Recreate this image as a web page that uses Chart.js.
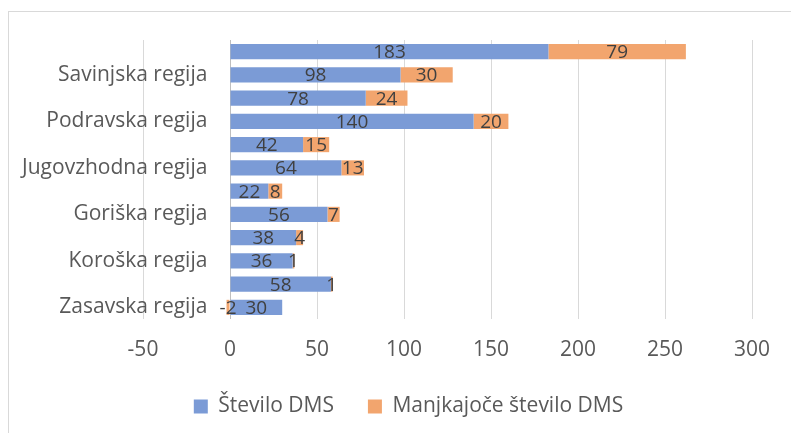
<!DOCTYPE html>
<html>
<head>
<meta charset="utf-8">
<script src="https://cdn.jsdelivr.net/npm/chart.js@4.4.1/dist/chart.umd.min.js"></script>
<style>
  html, body { margin: 0; padding: 0; background: #fff; overflow: hidden; }
  #wrap { position: relative; width: 791px; height: 433px; }
  #frame { position: absolute; left: 8px; top: 11px; width: 900px; height: 500px; border: 1px solid #d9d9d9; box-sizing: border-box; }
  canvas { position: absolute; left: 0; top: 0; }
</style>
</head>
<body>
<div id="wrap">
  <div id="frame"></div>
  <canvas id="chart" width="791" height="433"></canvas>
</div>
<script>
// regije (od zgoraj navzdol), v grafu je izpisana vsaka druga
const regije = [
  'Osrednjeslovenska regija',
  'Savinjska regija',
  'Gorenjska regija',
  'Podravska regija',
  'Pomurska regija',
  'Jugovzhodna regija',
  'Primorsko-notranjska regija',
  'Goriška regija',
  'Posavska regija',
  'Koroška regija',
  'Obalno-kraška regija',
  'Zasavska regija'
];
const steviloDMS = [183, 98, 78, 140, 42, 64, 22, 56, 38, 36, 58, 30];
const manjkajoceDMS = [79, 30, 24, 20, 15, 13, 8, 7, 4, 1, 1, -2];
const xTicks = [-50, 0, 50, 100, 150, 200, 250, 300];

const FONT = '"Open Sans", Lato, sans-serif';

// napisi vrednosti na sredini vsakega segmenta
const vrednostiPlugin = {
  id: 'vrednosti',
  afterDatasetsDraw(chart) {
    const ctx = chart.ctx;
    ctx.save();
    ctx.font = '19px ' + FONT;
    ctx.fillStyle = '#404040';
    ctx.textAlign = 'center';
    ctx.textBaseline = 'middle';
    chart.data.datasets.forEach((ds, i) => {
      const meta = chart.getDatasetMeta(i);
      meta.data.forEach((bar, j) => {
        const cx = (bar.x + bar.base) / 2;
        ctx.fillText(String(ds.data[j]), cx, bar.y + 1);
      });
    });
    ctx.restore();
  }
};

new Chart(document.getElementById('chart'), {
  type: 'bar',
  data: {
    labels: regije,
    datasets: [
      {
        label: 'Število DMS',
        data: steviloDMS,
        backgroundColor: '#7b9bd6',
        barPercentage: 0.65,
        categoryPercentage: 1
      },
      {
        label: 'Manjkajoče število DMS',
        data: manjkajoceDMS,
        backgroundColor: '#f2a56e',
        barPercentage: 0.65,
        categoryPercentage: 1
      }
    ]
  },
  options: {
    indexAxis: 'y',
    responsive: false,
    animation: false,
    layout: { padding: { left: 65, right: 39, top: 40, bottom: 6 } },
    scales: {
      x: {
        stacked: true,
        min: -50,
        max: 300,
        afterBuildTicks(scale) {
          scale.ticks = xTicks.map(v => ({ value: v }));
        },
        afterFit(scale) { scale.height = 43; },
        grid: {
          color: ctx => (ctx.tick && ctx.tick.value === 0) ? '#bfbfbf' : '#d9d9d9',
          drawTicks: false
        },
        border: { display: false },
        ticks: { color: '#595959', font: { size: 21, family: FONT }, padding: 18 }
      },
      y: {
        stacked: true,
        // napisi desno poravnani malo levo od osi 0 (kot v Excelu)
        position: { x: -13 },
        grid: { display: false, drawTicks: false },
        border: { display: false },
        ticks: {
          autoSkip: false,
          color: '#595959',
          font: { size: 21, family: FONT },
          callback(value, index) {
            return index % 2 === 1 ? this.getLabelForValue(value) : '';
          }
        }
      },
      // prazna os, samo da je legenda sredinsko pod celim grafom
      odmik: {
        type: 'linear',
        position: 'left',
        afterFit(scale) { scale.width = 78; },
        grid: { display: false },
        border: { display: false },
        ticks: { display: false }
      }
    },
    plugins: {
      legend: {
        position: 'bottom',
        labels: {
          color: '#595959',
          font: { size: 21, family: FONT },
          boxWidth: 14,
          boxHeight: 14,
          padding: 34
        }
      },
      tooltip: { enabled: false }
    }
  },
  plugins: [vrednostiPlugin]
});
</script>
</body>
</html>
